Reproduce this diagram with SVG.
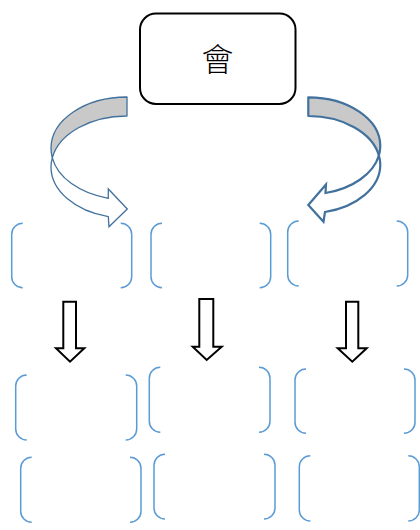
<svg xmlns="http://www.w3.org/2000/svg" width="420" height="530" viewBox="0 0 420 530">
<style>
.bk{fill:none;stroke:#5B9BD5;stroke-width:1.5}
.da{fill:#fff;stroke:#000;stroke-width:2;stroke-linejoin:miter}
.back{fill:#C9C9C9;stroke:#41719C;stroke-linejoin:round}
.front{fill:#fff;stroke:#41719C;stroke-linejoin:miter}
.lbl{font-family:"Noto Sans CJK TC","Noto Sans CJK SC",sans-serif;font-size:32px;font-weight:300;fill:#000}
</style>
<rect width="420" height="530" fill="#fff"/>
<g id="top">
<rect x="140" y="13.5" width="155.5" height="90.5" rx="16" fill="#fff" stroke="#000" stroke-width="2"/>
<text class="lbl" x="217.5" y="71" text-anchor="middle">會</text>
</g>
<g id="connectors">
<g id="curve-left" stroke-width="1.3">
<path class="back" d="M127,97 A76,51.3 0 0 0 51,148.3 A76,51.3 0 0 0 52.3,157.8 A76,51.3 0 0 1 127,116 Z"/>
<path class="front" d="M52.3,157.8 A76,51.3 0 0 0 108.3,198.3 L108.3,189 L127.3,209 L109,226.7 L108.3,216.7 A76,51.3 0 0 1 51,167.3 A76,51.3 0 0 1 52.3,157.8 Z"/>
</g>
<g id="curve-right" stroke-width="2.2">
<path class="back" d="M308.3,97.3 A72,48.7 0 0 1 380.3,146 A72,48.7 0 0 1 378.9,155.5 A72,48.7 0 0 0 308.3,116 Z"/>
<path class="front" d="M378.9,155.5 A72,48.7 0 0 1 325.5,193 L326,184.5 L308.3,205 L323.5,221.7 L325,212 A72,48.7 0 0 0 380.3,164.7 A72,48.7 0 0 0 378.9,155.5 Z"/>
</g>
<path class="da" d="M63.3,301.7 H76 V348.3 H84.3 L70,361.7 L56,348.3 H63.3 Z"/>
<path class="da" d="M199.3,299 H213.3 V346.7 H221.7 L206.7,360 L192.7,346.7 H199.3 Z"/>
<path class="da" d="M346,301.7 H358.3 V348.3 H366.7 L352.3,361.7 L337.7,348.3 H346 Z"/>
</g>
<g id="box-a"><path class="bk" d="M22.7,223.3 A11,11 0 0 0 11.7,234.3 V276.7 A11,11 0 0 0 22.7,287.7 M120.7,223.3 A11,11 0 0 1 131.7,234.3 V276.7 A11,11 0 0 1 120.7,287.7"/></g>
<g id="box-b"><path class="bk" d="M162,223.3 A11,11 0 0 0 151,234.3 V276.7 A11,11 0 0 0 162,287.7 M259.7,223.3 A11,11 0 0 1 270.7,234.3 V276.7 A11,11 0 0 1 259.7,287.7"/></g>
<g id="box-c"><path class="bk" d="M298.7,221 A11,11 0 0 0 287.7,232 V275 A11,11 0 0 0 298.7,286 M396.7,221 A11,11 0 0 1 407.7,232 V275 A11,11 0 0 1 396.7,286"/></g>
<g id="box-d"><path class="bk" d="M26.7,375 A11,11 0 0 0 15.7,386 V429 A11,11 0 0 0 26.7,440 M125.7,375 A11,11 0 0 1 136.7,386 V429 A11,11 0 0 1 125.7,440"/></g>
<g id="box-e"><path class="bk" d="M160.3,367.3 A11,11 0 0 0 149.3,378.3 V421.3 A11,11 0 0 0 160.3,432.3 M259,367.3 A11,11 0 0 1 270,378.3 V421.3 A11,11 0 0 1 259,432.3"/></g>
<g id="box-f"><path class="bk" d="M306,369 A11,11 0 0 0 295,380 V422.3 A11,11 0 0 0 306,433.3 M404,369 A11,11 0 0 1 415,380 V422.3 A11,11 0 0 1 404,433.3"/></g>
<g id="box-g"><path class="bk" d="M31.7,457.3 A11,11 0 0 0 20.7,468.3 V511.3 A11,11 0 0 0 31.7,522.3 M130,457.3 A11,11 0 0 1 141,468.3 V511.3 A11,11 0 0 1 130,522.3"/></g>
<g id="box-h"><path class="bk" d="M165,454.3 A11,11 0 0 0 154,465.3 V508 A11,11 0 0 0 165,519 M264,454.3 A11,11 0 0 1 275,465.3 V508 A11,11 0 0 1 264,519"/></g>
<g id="box-i"><path class="bk" d="M310.3,455.7 A11,11 0 0 0 299.3,466.7 V510 A11,11 0 0 0 310.3,521 M408.3,455.7 A11,11 0 0 1 419.3,466.7 V510 A11,11 0 0 1 408.3,521"/></g>
</svg>
